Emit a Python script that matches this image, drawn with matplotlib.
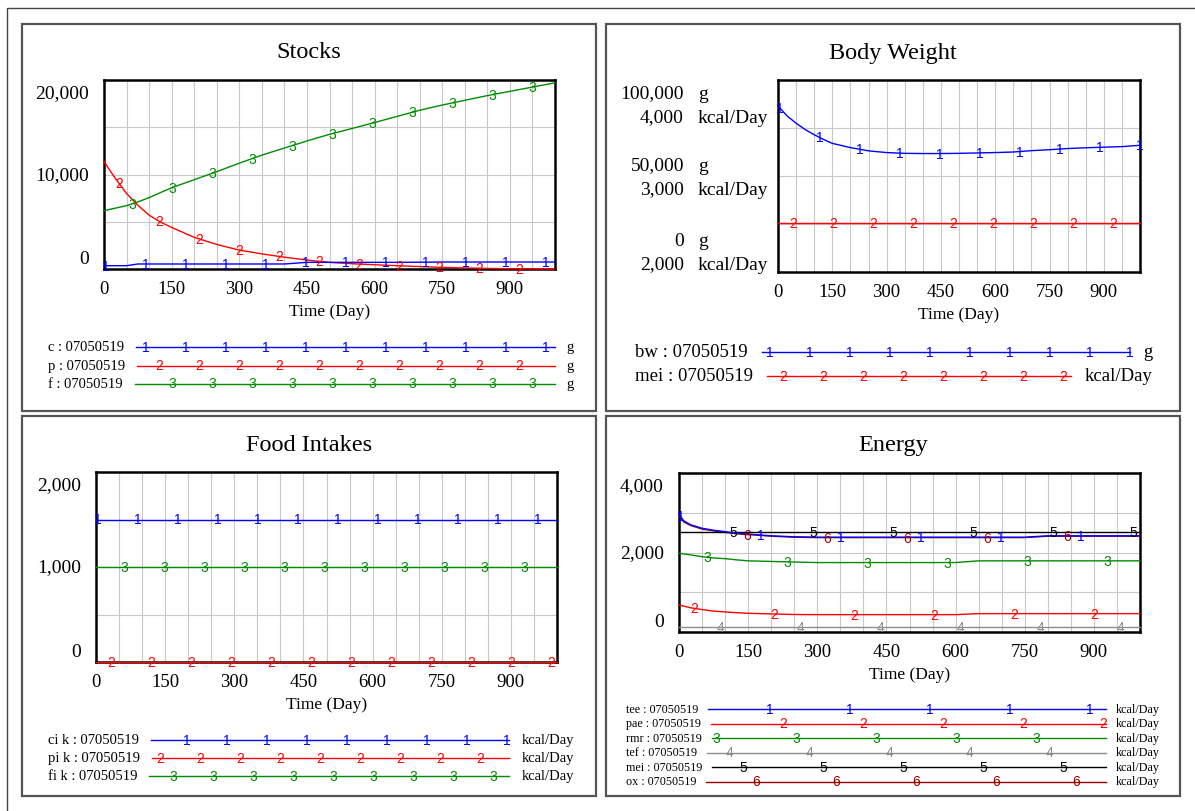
import numpy as np
import matplotlib
matplotlib.use('Agg')
import matplotlib.pyplot as plt
from matplotlib.patches import Rectangle
from matplotlib.transforms import blended_transform_factory, ScaledTranslation

plt.rcParams['font.family'] = ['Liberation Serif', 'DejaVu Serif']
SANS = 'Liberation Sans'
W, H = 1195, 812

# time axis (Day); denser at the start where the curves bend
days = [0, 10, 25, 50, 75, 100, 125, 150, 200, 250, 300, 350, 400, 450, 500,
        550, 600, 650, 700, 750, 800, 850, 900, 950, 1000]
x_ticks = [0, 150, 300, 450, 600, 750, 900]
x_labels = ['0', '150', '300', '450', '600', '750', '900']

# Stocks (g)
stock_c = [350, 350, 350, 350, 530, 530, 530, 530, 530, 530, 530, 530, 530, 705, 705,
           705, 705, 705, 720, 740, 740, 740, 740, 740, 740]
stock_p = [11400, 10650, 9600, 8000, 6750, 5700, 4980, 4400, 3350, 2600, 2000, 1600, 1250, 950, 700,
           560, 450, 350, 260, 170, 110, 60, 30, 10, 0]
stock_f = [6170, 6280, 6440, 6700, 7100, 7550, 8080, 8600, 9450, 10300, 11200, 12050, 12800, 13550, 14250,
           14870, 15500, 16150, 16800, 17350, 17850, 18350, 18800, 19250, 19700]
stock_ticks = [0, 10000, 20000]
stock_tick_labels = ['0', '10,000', '20,000']

# Body Weight (g) and metabolizable energy intake (kcal/Day)
bw = [86500, 84400, 81300, 77500, 74200, 71500, 69100, 67000, 64800, 63100, 62200, 61800, 61700, 61700, 61800,
      62000, 62200, 62500, 63200, 63700, 64300, 64700, 65000, 65300, 66000]
bw_mei = [2510, 2510, 2510, 2510, 2510, 2510, 2510, 2510, 2510, 2510, 2510, 2510, 2510, 2510, 2510,
          2510, 2510, 2510, 2510, 2510, 2510, 2510, 2510, 2510, 2510]
bw_ticks = [0, 50000, 100000]
bw_tick_labels = ['0', '50,000', '100,000']
mei_ticks = [2000, 3000, 4000]
mei_tick_labels = ['2,000', '3,000', '4,000']

# Food Intakes (kcal/Day)
ci_k = [1500, 1500, 1500, 1500, 1500, 1500, 1500, 1500, 1500, 1500, 1500, 1500, 1500, 1500, 1500,
        1500, 1500, 1500, 1500, 1500, 1500, 1500, 1500, 1500, 1500]
pi_k = [0, 0, 0, 0, 0, 0, 0, 0, 0, 0, 0, 0, 0, 0, 0,
        0, 0, 0, 0, 0, 0, 0, 0, 0, 0]
fi_k = [1000, 1000, 1000, 1000, 1000, 1000, 1000, 1000, 1000, 1000, 1000, 1000, 1000, 1000, 1000,
        1000, 1000, 1000, 1000, 1000, 1000, 1000, 1000, 1000, 1000]
food_ticks = [0, 1000, 2000]
food_tick_labels = ['0', '1,000', '2,000']

# Energy (kcal/Day)
tee = [2965, 2800, 2700, 2610, 2560, 2525, 2488, 2465, 2420, 2395, 2385, 2385, 2385, 2385, 2385,
       2385, 2385, 2385, 2385, 2385, 2420, 2420, 2420, 2420, 2420]
pae = [680, 650, 610, 565, 525, 505, 485, 470, 455, 440, 437, 437, 437, 437, 437,
       437, 437, 462, 462, 462, 462, 462, 462, 462, 462]
rmr = [1982, 1965, 1940, 1895, 1862, 1845, 1815, 1790, 1775, 1760, 1747, 1747, 1747, 1747, 1747,
       1747, 1747, 1790, 1790, 1790, 1790, 1790, 1790, 1790, 1790]
tef = [126, 126, 126, 126, 126, 126, 126, 126, 126, 126, 126, 126, 126, 126, 126,
       126, 126, 126, 126, 126, 126, 126, 126, 126, 126]
mei = [2520, 2520, 2520, 2520, 2520, 2520, 2520, 2520, 2520, 2520, 2520, 2520, 2520, 2520, 2520,
       2520, 2520, 2520, 2520, 2520, 2520, 2520, 2520, 2520, 2520]
ox = [2930, 2770, 2680, 2590, 2545, 2505, 2470, 2450, 2410, 2385, 2375, 2375, 2375, 2375, 2375,
      2375, 2375, 2375, 2375, 2375, 2410, 2410, 2410, 2410, 2410]
energy_ticks = [0, 2000, 4000]
energy_tick_labels = ['0', '2,000', '4,000']

BLUE, RED, GREEN = '#0000ff', '#ff0000', '#008c00'
GRAY, BLACK, DRED = '#8c8c8c', '#000000', '#990000'

fig = plt.figure(figsize=(W / 100, H / 100), dpi=100)
lay = fig.add_axes([0, 0, 1, 1], zorder=-1)
lay.set_xlim(0, W)
lay.set_ylim(H, 0)
lay.axis('off')

# outer frame and the four panel frames
lay.add_patch(Rectangle((7, 9), 1400, 1000, fill=False, ec='#444444', lw=1.0))
for (px, py, ph) in [(22, 25, 387), (606, 25, 387), (22, 417, 380), (606, 417, 380)]:
    lay.add_patch(Rectangle((px, py), 574, ph, fill=False, ec='#555555', lw=1.6))


def add_plot(box, yticks, title, title_xy):
    l, t, r, b = box
    ax = fig.add_axes([l / W, 1 - b / H, (r - l) / W, (b - t) / H])
    ax.set_xlim(0, 1000)
    ax.set_ylim(yticks[0], yticks[-1])
    ax.set_xticks(x_ticks)
    ax.set_xticklabels(x_labels, fontsize=13.5)
    ax.set_xticks(np.arange(0, 1001, 50), minor=True)
    ax.set_yticks(np.linspace(yticks[0], yticks[-1], 5))
    ax.set_yticklabels([])
    ax.tick_params(which='both', length=0)
    ax.tick_params(axis='x', pad=8)
    ax.grid(True, which='both', color='#c8c8c8', lw=0.8)
    ax.set_axisbelow(True)
    for s in ax.spines.values():
        s.set_linewidth(1.8)
    ax.set_xlabel('Time (Day)', fontsize=12.5, labelpad=4.5)
    lay.text(title_xy[0], title_xy[1], title, fontsize=17.5, ha='center', va='center')
    return ax


def ylabel(ax, v, s, dx, dy, ha, size=14):
    tr = blended_transform_factory(ax.transAxes, ax.transData) + \
        ScaledTranslation(dx / 100, dy / 100, fig.dpi_scale_trans)
    ax.text(0, v, s, transform=tr, ha=ha, va='center', fontsize=size)


def yaxis_labels(ax, ticks, labels):
    for i, (v, s) in enumerate(zip(ticks, labels)):
        dy = 10 if i == 0 else (-13 if i == len(ticks) - 1 else 0)
        ylabel(ax, v, s, -15, dy, 'right')


def draw_series(ax, vals, color, digit, k, spacing, width):
    ax.plot(days, vals, color=color, lw=1.0, zorder=3, clip_on=False)
    pos = np.arange(1.5 + k * 13.3, width + 0.5, spacing)
    md = pos / width * 1000
    for x, y in zip(md, np.interp(md, days, vals)):
        ax.text(x, y, digit, color=color, fontsize=10, family=SANS,
                ha='center', va='center', zorder=4)


renderer = fig.canvas.get_renderer()


def legend(rows, label_x, unit_right, ys, size, base, spacing, gap=12):
    for k, (name, unit, color, digit) in enumerate(rows):
        y = ys[k]
        t1 = lay.text(label_x, y, name, fontsize=size, ha='left', va='center')
        t2 = lay.text(unit_right, y, unit, fontsize=size, ha='right', va='center')
        x0 = t1.get_window_extent(renderer).x1 + gap
        x1 = t2.get_window_extent(renderer).x0 - gap
        lay.plot([x0, x1], [y, y], color=color, lw=1.0)
        for mx in np.arange(base + k * 13.3, x1 + 1.5, spacing):
            if mx >= x0 + 1:
                lay.text(mx, y, digit, color=color, fontsize=10, family=SANS,
                         ha='center', va='center')


# ---- Stocks
ax = add_plot((104, 81, 555, 270), stock_ticks, 'Stocks', (309, 53))
yaxis_labels(ax, stock_ticks, stock_tick_labels)
wd = 451
for k, vals, c in [(2, stock_f, GREEN), (1, stock_p, RED), (0, stock_c, BLUE)]:
    draw_series(ax, vals, c, str(k + 1), k, 40, wd)
legend([('c : 07050519', 'g', BLUE, '1'), ('p : 07050519', 'g', RED, '2'),
        ('f : 07050519', 'g', GREEN, '3')],
       48, 574, [348, 366.5, 384.5], 10.5, 106, 40)

# ---- Body Weight
ax = add_plot((778, 81, 1140, 273), bw_ticks, 'Body Weight', (893, 53))
ax2 = ax.twinx()
ax2.set_ylim(mei_ticks[0], mei_ticks[-1])
ax2.set_yticks([])
for s in ax2.spines.values():
    s.set_visible(False)
for i in range(3):
    dy = 20 if i == 0 else (-25 if i == 2 else -1)
    ylabel(ax, bw_ticks[i], bw_tick_labels[i], -94, dy + 12, 'right')
    ylabel(ax, bw_ticks[i], 'g', -80, dy + 12, 'left')
    ylabel(ax, bw_ticks[i], mei_tick_labels[i], -94, dy - 12, 'right')
    ylabel(ax, bw_ticks[i], 'kcal/Day', -80, dy - 12, 'left')
wd = 362
draw_series(ax2, bw_mei, RED, '2', 1, 40, wd)
draw_series(ax, bw, BLUE, '1', 0, 40, wd)
legend([('bw : 07050519', 'g', BLUE, '1'), ('mei : 07050519', 'kcal/Day', RED, '2')],
       635, 1153, [353, 377], 13.5, 770, 40, gap=14)

# ---- Food Intakes
ax = add_plot((96, 473, 557, 663), food_ticks, 'Food Intakes', (309, 446))
yaxis_labels(ax, food_ticks, food_tick_labels)
wd = 461
for k, vals, c in [(2, fi_k, GREEN), (1, pi_k, RED), (0, ci_k, BLUE)]:
    draw_series(ax, vals, c, str(k + 1), k, 40, wd)
legend([('ci k : 07050519', 'kcal/Day', BLUE, '1'), ('pi k : 07050519', 'kcal/Day', RED, '2'),
        ('fi k : 07050519', 'kcal/Day', GREEN, '3')],
       48, 574, [741, 759, 777], 10.5, 146.5, 40)

# ---- Energy
ax = add_plot((679, 474, 1140, 633), energy_ticks, 'Energy', (893, 446))
yaxis_labels(ax, energy_ticks, energy_tick_labels)
wd = 461
energy = [(tee, BLUE), (pae, RED), (rmr, GREEN), (tef, GRAY), (mei, BLACK), (ox, DRED)]
for k in [5, 4, 3, 2, 1, 0]:
    vals, c = energy[k]
    draw_series(ax, vals, c, str(k + 1), k, 80, wd)
names = ['tee', 'pae', 'rmr', 'tef', 'mei', 'ox']
legend([(n + ' : 07050519', 'kcal/Day', energy[k][1], str(k + 1)) for k, n in enumerate(names)],
       626, 1160, [710, 724.5, 739, 753.5, 768, 782.5], 8.7, 690, 80, gap=10)

fig.savefig('out.png', dpi=100)
